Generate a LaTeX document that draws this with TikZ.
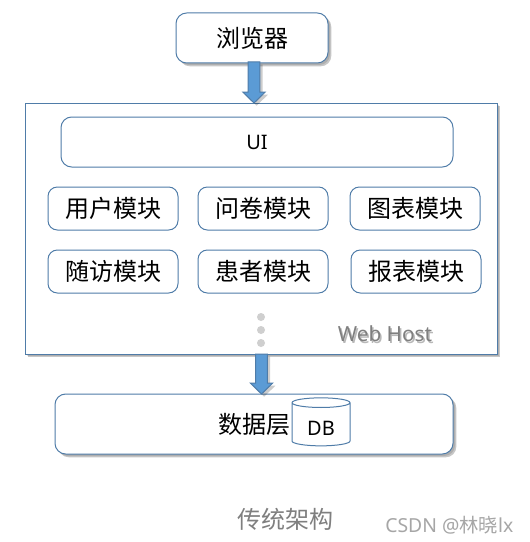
\documentclass[tikz,border=0pt]{standalone}
\usepackage{fontspec}
\setmainfont{Noto Sans}
\newfontfamily\cjk{Noto Sans CJK SC}
\usetikzlibrary{shapes.geometric,shadows,calc}
\definecolor{edgeblue}{HTML}{4F7CA8}
\definecolor{arrowblue}{HTML}{5B9BD5}
\definecolor{dotgray}{HTML}{CFCFCF}
\definecolor{captiongray}{HTML}{7F7F7F}
\definecolor{markgray}{HTML}{A6A6A6}
\tikzset{
  softshadow/.style={
    general shadow={fill=black,opacity=.12,shadow xshift=1.5pt,shadow yshift=-1.5pt},
    general shadow={fill=black,opacity=.22,shadow xshift=2.5pt,shadow yshift=-2.5pt}},
  panel/.style={draw=edgeblue,line width=.75pt,fill=white,inner sep=0pt,anchor=center},
  roundbox/.style={panel,rounded corners=8pt,softshadow},
  modulebox/.style={panel,rounded corners=7pt,minimum width=97.5pt,minimum height=32.25pt,font=\cjk\fontsize{18}{20}\selectfont},
  dotmark/.style={circle,fill=dotgray,minimum size=6pt,inner sep=0pt},
  blockarrow/.style={draw=edgeblue,line width=.75pt,fill=arrowblue,line join=miter,
    general shadow={fill=black,opacity=.2,shadow xshift=2pt,shadow yshift=-2pt}}
}
\newcommand{\bigarrow}[2]{%
  \path[blockarrow] let \p1=(#1), \p2=(#2) in
    (\x1-4.4pt,\y1) -- (\x1+4.4pt,\y1) -- (\x1+4.4pt,\y2+8.2pt) -- (\x1+8.4pt,\y2+8.2pt)
    -- (\x2,\y2) -- (\x1-8.4pt,\y2+8.2pt) -- (\x1-4.4pt,\y2+8.2pt) -- cycle;}
\begin{document}
\begin{tikzpicture}[x=.75pt,y=-.75pt]
\useasboundingbox (0,0) rectangle (529,542);
\fill[white] (0,0) rectangle (529,542);
% host panel
\node[panel,softshadow,minimum width=354pt,minimum height=188.25pt] (host) at (261,228.5) {};
% top
\node[roundbox,minimum width=114pt,minimum height=37.5pt,font=\cjk\fontsize{18}{20}\selectfont] (browser) at (252,38) {浏览器};
\node[panel,rounded corners=8pt,minimum width=294pt,minimum height=37.5pt,font=\fontsize{15}{17}\selectfont] (ui) at (257,142) {UI};
\node[modulebox] (m1) at (113,208.5) {用户模块};
\node[modulebox] (m2) at (263,208.5) {问卷模块};
\node[modulebox] (m3) at (415,208.5) {图表模块};
\node[modulebox] (m4) at (113,271.5) {随访模块};
\node[modulebox] (m5) at (263,271.5) {患者模块};
\node[modulebox] (m6) at (416,271.5) {报表模块};
\node[dotmark] (d1) at (261,317) {};
\node[dotmark] (d2) at (261,330) {};
\node[dotmark] (d3) at (261,343) {};
\node[font=\fontsize{15.6}{17}\selectfont,text=black!28,anchor=center] (hostshade) at (386.5,335.5) {Web Host};
\node[font=\fontsize{15.6}{17}\selectfont,text=captiongray,anchor=center] (hostlabel) at (385,334) {Web Host};
% data layer
\node[roundbox,minimum width=298.5pt,minimum height=45pt] (data) at (254,424) {};
\node[font=\cjk\fontsize{18}{20}\selectfont] (datalabel) at (254,424) {数据层};
\node[cylinder,shape border rotate=90,aspect=.35,draw=edgeblue,line width=.75pt,fill=white,
  minimum width=43.5pt,minimum height=36pt,inner sep=0pt,font=\fontsize{15}{17}\selectfont] (db) at (321,424.5) {\raisebox{-8pt}[0pt][0pt]{DB}};
% connectors
\coordinate (a1s) at (254,62);
\coordinate (a1e) at (254,103);
\coordinate (a2s) at (261.5,354);
\coordinate (a2e) at (261.5,394);
\bigarrow{a1s}{a1e}
\bigarrow{a2s}{a2e}
% captions
\node[font=\cjk\fontsize{18}{20}\selectfont,text=captiongray] (caption) at (285,519.5) {传统架构};
\node[font=\fontsize{14.5}{16}\selectfont,text=markgray,anchor=east] (mark) at (518,525) {CSDN @{\cjk 林晓}lx};
\end{tikzpicture}
\end{document}
